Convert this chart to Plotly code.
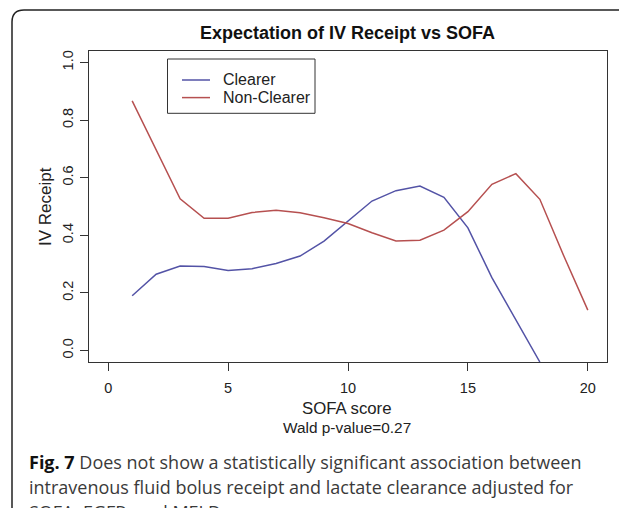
import plotly.graph_objects as go

sofa_clearer = [1, 2, 3, 4, 5, 6, 7, 8, 9, 10, 11, 12, 13, 14, 15, 16, 17, 18]
iv_clearer = [0.19, 0.265, 0.293, 0.292, 0.278, 0.284, 0.302, 0.328, 0.38, 0.449,
              0.519, 0.555, 0.571, 0.532, 0.426, 0.253, 0.108, -0.04]
sofa_nonclearer = [1, 2, 3, 4, 5, 6, 7, 8, 9, 10, 11, 12, 13, 14, 15, 16, 17, 18, 19, 20]
iv_nonclearer = [0.867, 0.697, 0.527, 0.459, 0.459, 0.479, 0.487, 0.478, 0.461, 0.441,
                 0.409, 0.38, 0.383, 0.418, 0.482, 0.577, 0.614, 0.525, 0.328, 0.14]
x_ticks = [0, 5, 10, 15, 20]
y_ticks = [0.0, 0.2, 0.4, 0.6, 0.8, 1.0]
y_tick_labels = ["0.0", "0.2", "0.4", "0.6", "0.8", "1.0"]
series_names = ["Clearer", "Non-Clearer"]
series_colors = ["#5353a6", "#b65050"]

# the page body adds an 8px offset; the figure is sized to fit the 627x508 window
OFF = 8
W, H = 627 - OFF, 508 - OFF
ML, MR, MT, MB = 81, 20, 43, 146
PW, PH = W - ML - MR, H - MT - MB


def px(xr):
    return (xr - OFF - ML) / PW


def py(yr):
    return (H - MB - (yr - OFF)) / PH


fig = go.Figure()
fig.add_trace(go.Scatter(x=sofa_clearer, y=iv_clearer, mode="lines", name=series_names[0],
                         line=dict(color=series_colors[0], width=1.5), showlegend=False))
fig.add_trace(go.Scatter(x=sofa_nonclearer, y=iv_nonclearer, mode="lines", name=series_names[1],
                         line=dict(color=series_colors[1], width=1.5), showlegend=False))

ARIAL = "Liberation Sans, Arial"
axis_font = dict(family=ARIAL, size=14.5, color="#222")
fig.update_xaxes(range=[-0.8, 20.8], tickvals=x_ticks, ticks="outside", ticklen=8,
                 tickcolor="#333", showline=True, linecolor="#333", linewidth=1, mirror=True,
                 showgrid=False, zeroline=False, tickfont=axis_font, ticklabelstandoff=5)
fig.update_yaxes(range=[-0.04, 1.04], tickvals=y_ticks, ticktext=y_tick_labels, ticks="outside",
                 ticklen=8, tickcolor="#333", showline=True, linecolor="#333", linewidth=1,
                 mirror=True, showgrid=False, zeroline=False, tickfont=axis_font, tickangle=-90,
                 ticklabelstandoff=1)

ann = []
ann.append(dict(text="<b>Expectation of IV Receipt vs SOFA</b>", x=px(347), y=py(33),
                xref="paper", yref="paper", showarrow=False, xanchor="center", yanchor="middle",
                font=dict(family=ARIAL, size=18, color="#111")))
ann.append(dict(text="SOFA score", x=px(347), y=py(408), xref="paper", yref="paper",
                showarrow=False, xanchor="center", yanchor="middle",
                font=dict(family=ARIAL, size=16.8, color="#222")))
ann.append(dict(text="Wald p-value=0.27", x=px(347), y=py(427), xref="paper", yref="paper",
                showarrow=False, xanchor="center", yanchor="middle",
                font=dict(family=ARIAL, size=15.4, color="#222")))
ann.append(dict(text="IV Receipt", x=px(45), y=py(207), xref="paper", yref="paper",
                showarrow=False, xanchor="center", yanchor="middle", textangle=-90,
                font=dict(family=ARIAL, size=17, color="#222")))

# legend (drawn as a boxed key)
shapes = []
shapes.append(dict(type="rect", xref="paper", yref="paper", x0=px(167.5), x1=px(315),
                   y0=py(113.3), y1=py(59), line=dict(color="#333", width=1),
                   fillcolor="white", layer="above"))
for i, (name, col) in enumerate(zip(series_names, series_colors)):
    yy = 80 + 17.6 * i
    shapes.append(dict(type="line", xref="paper", yref="paper", x0=px(182), x1=px(210),
                       y0=py(yy), y1=py(yy), line=dict(color=col, width=1.5), layer="above"))
    ann.append(dict(text=name, x=px(221), y=py(yy), xref="paper", yref="paper",
                    showarrow=False, xanchor="left", yanchor="middle",
                    font=dict(family=ARIAL, size=16, color="#222")))

cap_font = dict(family="Open Sans", size=18, color="#3a3a3a")
caption_lines = [
    "<b style='color:#111'>Fig. 7</b> Does not show a statistically significant association between",
    "intravenous fluid bolus receipt and lactate clearance adjusted for",
    "SOFA, EGFR, and MELD",
]
for i, line in enumerate(caption_lines):
    ann.append(dict(text=line, x=px(27), y=py(462 + 25 * i), xref="paper", yref="paper",
                    showarrow=False, xanchor="left", yanchor="middle", font=cap_font))

# rounded figure border
L, T, R, B = px(12), py(10), px(700), py(560)
rx, ry = 12 / PW, 12 / PH
path = f"M {L},{B} L {L},{T - ry} Q {L},{T} {L + rx},{T} L {R},{T}"
shapes.append(dict(type="path", path=path, xref="paper", yref="paper",
                   line=dict(color="#222", width=1.5)))

fig.update_layout(
    width=W, height=H,
    margin=dict(l=ML, r=MR, t=MT, b=MB),
    paper_bgcolor="white", plot_bgcolor="white",
    showlegend=False,
    annotations=ann,
    shapes=shapes,
)

fig.write_html("out.html")
